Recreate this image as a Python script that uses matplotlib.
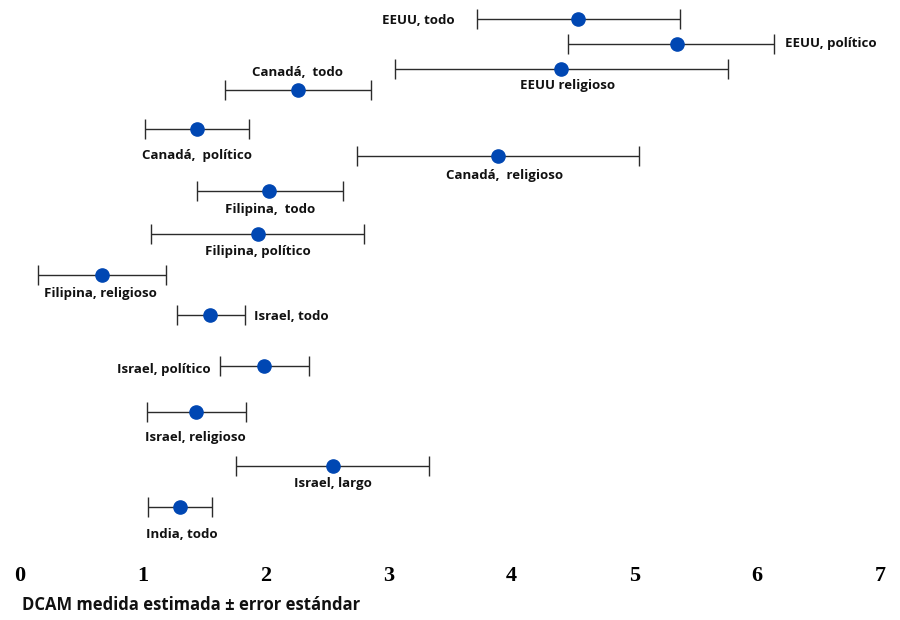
import matplotlib.pyplot as plt

# Estimated DCAM mean with lower / upper end of the standard-error bar
labels = ["EEUU, todo", "EEUU, político", "EEUU religioso", "Canadá,  todo",
          "Canadá,  político", "Canadá,  religioso", "Filipina,  todo",
          "Filipina, político", "Filipina, religioso", "Israel, todo",
          "Israel, político", "Israel, religioso", "Israel, largo", "India, todo"]
means = [4.54, 5.35, 4.40, 2.26, 1.44, 3.89, 2.03, 1.94, 0.67, 1.55, 1.99, 1.43, 2.55, 1.30]
lows = [3.72, 4.46, 3.05, 1.67, 1.02, 2.74, 1.44, 1.07, 0.15, 1.28, 1.63, 1.03, 1.76, 1.04]
highs = [5.37, 6.14, 5.76, 2.86, 1.86, 5.04, 2.63, 2.80, 1.19, 1.83, 2.35, 1.84, 3.33, 1.56]

# layout: vertical row positions (pixels from top) and label placement
row_y = [19, 44, 69, 90, 129, 156, 191, 234, 275, 315, 366, 412, 466, 507]
label_pos = ["left", "right", "below", "above", "below", "below", "below",
             "below", "below", "right", "left", "below", "below", "below"]
# label offsets in pixels (dx, dy) from the anchor (point, or cap for left/right)
label_off = [(-22, -2), (11, 0), (7, -17), (0, 17), (0, -27), (7, -19), (1, -19),
             (0, -17), (-2, -19), (9, -1), (-10, -4), (0, -25), (0, -17), (2, -28)]

fig = plt.figure(figsize=(9, 6.2), dpi=100)
ax = fig.add_axes([20 / 900, 1 - 545 / 620, 860 / 900, 545 / 620])

xerr = [[m - l for m, l in zip(means, lows)], [h - m for m, h in zip(means, highs)]]
ax.errorbar(means, row_y, xerr=xerr, fmt='o', color='#0047b3', markersize=9.5,
            ecolor='#2b2b2b', elinewidth=1.0, capsize=7.5, capthick=1.0, zorder=3)

lab_font = dict(fontsize=9.5, fontweight='bold', family='Open Sans', color='#111111')
for i, txt in enumerate(labels):
    p = label_pos[i]
    if p == "left":
        anchor, ha = lows[i], 'right'
    elif p == "right":
        anchor, ha = highs[i], 'left'
    else:
        anchor, ha = means[i], 'center'
    ax.annotate(txt, (anchor, row_y[i]), xytext=label_off[i], textcoords='offset pixels',
                ha=ha, va='center', **lab_font)

ax.set_xlim(0, 7)
ax.set_ylim(545, 0)
ax.set_xticks(range(8))
ax.set_xticklabels([str(v) for v in range(8)], fontsize=16, fontweight='bold',
                   family='Liberation Serif')
ax.tick_params(axis='x', length=0, pad=15)
ax.set_yticks([])
for s in ax.spines.values():
    s.set_visible(False)

fig.text(22 / 900, 1 - 605 / 620, "DCAM medida estimada ± error estándar",
         fontsize=12, fontweight='bold', family='Open Sans', color='#111111',
         ha='left', va='center')

fig.savefig("out.png", dpi=100)
